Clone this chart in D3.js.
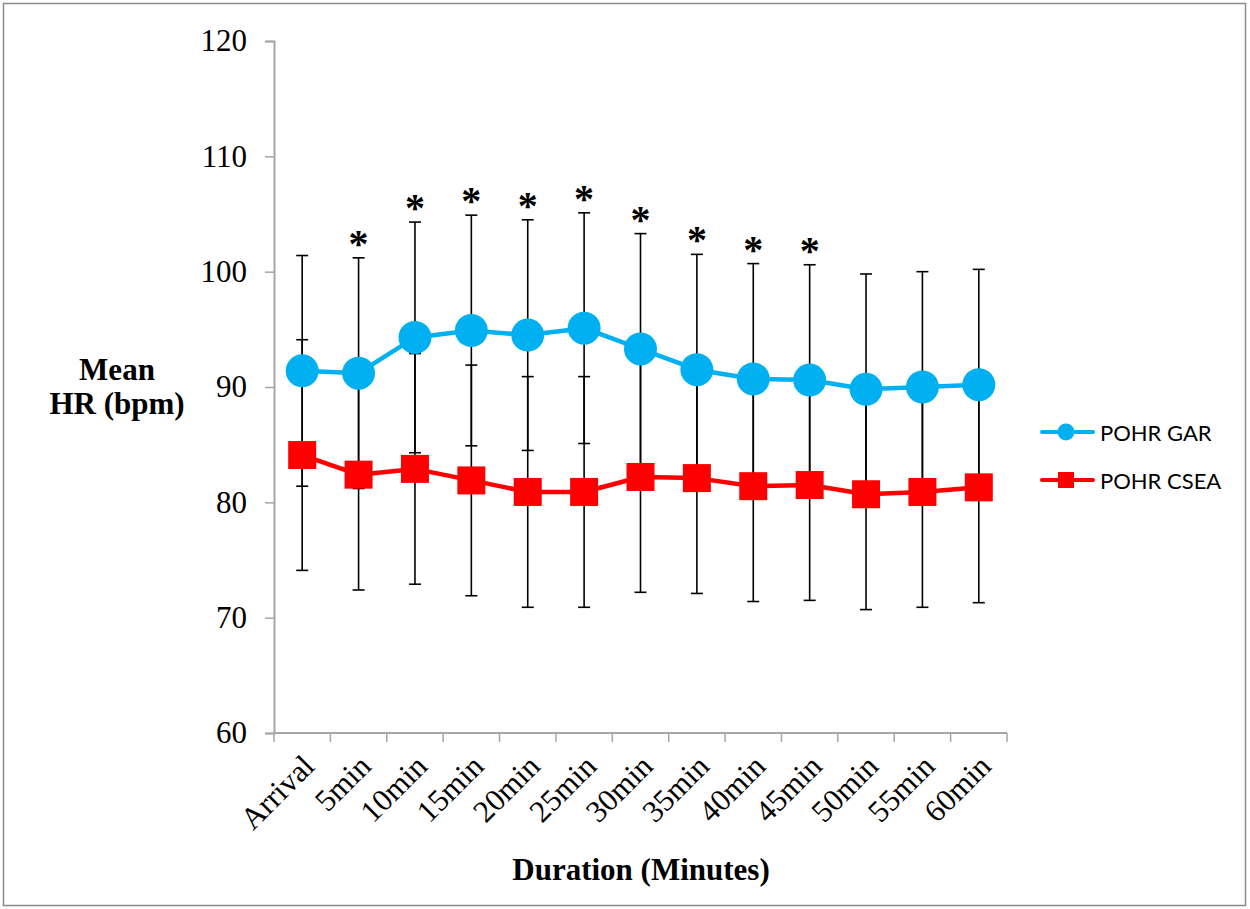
<!DOCTYPE html>
<html>
<head>
<meta charset="utf-8">
<script src="https://cdn.jsdelivr.net/npm/d3@7"></script>
<style>
  html, body { margin: 0; padding: 0; background: #fff; }
  svg { display: block; }
</style>
</head>
<body>
<svg id="chart" width="1250" height="909"></svg>
<script>
// Time points after arrival
const categories = ["Arrival", "5min", "10min", "15min", "20min", "25min", "30min",
                    "35min", "40min", "45min", "50min", "55min", "60min"];

// Mean post-operative heart rate (bpm)
const garMean  = [91.4, 91.2, 94.3, 94.9, 94.5, 95.1, 93.3, 91.5, 90.7, 90.6, 89.8, 90.0, 90.2];
const cseaMean = [84.1, 82.4, 82.9, 81.9, 80.9, 80.9, 82.2, 82.1, 81.4, 81.5, 80.7, 80.9, 81.3];

// Standard deviations used for the error bars
const garSD  = [10, 10, 10, 10, 10, 10, 10, 10, 10, 10, 10, 10, 10];
const cseaSD = [10, 10, 10, 10, 10, 10, 10, 10, 10, 10, 10, 10, 10];

// Time points with a significant difference between groups
const significant = [false, true, true, true, true, true, true, true, true, true, false, false, false];

const yTicks = [60, 70, 80, 90, 100, 110, 120];

const seriesNames = ["POHR GAR", "POHR CSEA"];
const blue = "#00B0F0", red = "#FF0000", axisGrey = "#A6A6A6";
const serif = "'Liberation Serif', 'Times New Roman', serif";

const svg = d3.select("#chart");

// Outer frame
svg.append("rect")
  .attr("x", 3.5).attr("y", 3.5).attr("width", 1242).attr("height", 902)
  .attr("fill", "none").attr("stroke", "#8c8c8c").attr("stroke-width", 1.5);

const plot = { left: 274, right: 1007, top: 41, bottom: 733 };

const x = d3.scaleBand().domain(categories).range([plot.left, plot.right]).paddingInner(0).paddingOuter(0);
const cx = c => x(c) + x.bandwidth() / 2;
const y = d3.scaleLinear().domain([60, 120]).range([plot.bottom, plot.top]);

// Y axis
const yAxis = svg.append("g").attr("transform", `translate(${plot.left},0)`)
  .call(d3.axisLeft(y).tickValues(yTicks).tickSize(9).tickPadding(18));
yAxis.select(".domain").attr("stroke", axisGrey).attr("stroke-width", 2);
yAxis.selectAll(".tick line").attr("stroke", axisGrey).attr("stroke-width", 1.5);
yAxis.selectAll(".tick text")
  .attr("font-family", serif)
  .attr("font-size", 31).attr("fill", "#000");

// X axis: baseline with ticks at category boundaries
const xg = svg.append("g");
xg.append("line")
  .attr("x1", plot.left).attr("x2", plot.right)
  .attr("y1", y(60)).attr("y2", y(60))
  .attr("stroke", axisGrey).attr("stroke-width", 2);
const edges = categories.map(c => x(c)).concat([x.range()[1]]);
xg.selectAll("line.tick").data(edges).join("line")
  .attr("class", "tick")
  .attr("x1", d => d).attr("x2", d => d)
  .attr("y1", y(60)).attr("y2", y(60) + 9)
  .attr("stroke", axisGrey).attr("stroke-width", 1.5);
xg.selectAll("text").data(categories).join("text")
  .attr("transform", d => `translate(${cx(d) + 9},${y(60) + 30}) rotate(-45)`)
  .attr("text-anchor", "end")
  .attr("dominant-baseline", "middle")
  .attr("font-family", serif)
  .attr("font-size", 31).attr("fill", "#000")
  .text(d => d);

// Axis titles
svg.append("text")
  .attr("x", 641).attr("y", 880).attr("text-anchor", "middle")
  .attr("font-family", serif)
  .attr("font-weight", "bold").attr("font-size", 31)
  .text("Duration (Minutes)");
const yt = svg.append("text")
  .attr("text-anchor", "middle")
  .attr("font-family", serif)
  .attr("font-weight", "bold").attr("font-size", 31);
yt.append("tspan").attr("x", 117).attr("y", 380).text("Mean");
yt.append("tspan").attr("x", 117).attr("y", 414).text("HR (bpm)");

// Error bars
function errorBars(means, sds) {
  const g = svg.append("g").attr("stroke", "#000").attr("stroke-width", 1.6);
  const rows = categories.map((c, i) => ({ c, lo: means[i] - sds[i], hi: means[i] + sds[i] }));
  g.selectAll("line.v").data(rows).join("line").attr("class", "v")
    .attr("x1", d => cx(d.c)).attr("x2", d => cx(d.c))
    .attr("y1", d => y(d.lo)).attr("y2", d => y(d.hi));
  g.selectAll("line.hi").data(rows).join("line").attr("class", "hi")
    .attr("x1", d => cx(d.c) - 6).attr("x2", d => cx(d.c) + 6)
    .attr("y1", d => y(d.hi)).attr("y2", d => y(d.hi));
  g.selectAll("line.lo").data(rows).join("line").attr("class", "lo")
    .attr("x1", d => cx(d.c) - 6).attr("x2", d => cx(d.c) + 6)
    .attr("y1", d => y(d.lo)).attr("y2", d => y(d.lo));
}
errorBars(garMean, garSD);
errorBars(cseaMean, cseaSD);

const line = d3.line().x((d, i) => cx(categories[i])).y(d => y(d));

// CSEA series: red line with squares
svg.append("path").datum(cseaMean)
  .attr("d", line).attr("fill", "none")
  .attr("stroke", red).attr("stroke-width", 4.5).attr("stroke-linejoin", "round");
svg.append("g").selectAll("rect").data(cseaMean).join("rect")
  .attr("x", (d, i) => cx(categories[i]) - 14)
  .attr("y", d => y(d) - 14)
  .attr("width", 28).attr("height", 28)
  .attr("fill", red);

// GAR series: blue line with circles
svg.append("path").datum(garMean)
  .attr("d", line).attr("fill", "none")
  .attr("stroke", blue).attr("stroke-width", 4.5).attr("stroke-linejoin", "round");
svg.append("g").selectAll("circle").data(garMean).join("circle")
  .attr("cx", (d, i) => cx(categories[i]))
  .attr("cy", d => y(d))
  .attr("r", 16.5)
  .attr("fill", blue);

// Significance markers above the GAR error bars
svg.append("g").selectAll("text")
  .data(categories.map((c, i) => ({ c, top: garMean[i] + garSD[i], sig: significant[i] })).filter(d => d.sig))
  .join("text")
  .attr("x", d => cx(d.c))
  .attr("y", d => y(d.top) - 1)
  .attr("text-anchor", "middle")
  .attr("font-family", serif)
  .attr("font-weight", "bold").attr("font-size", 40)
  .text("*");

// Legend
const legend = svg.append("g");
const legendRows = [
  { name: seriesNames[0], color: blue, shape: "circle", y: 432 },
  { name: seriesNames[1], color: red, shape: "square", y: 480 }
];
legendRows.forEach(r => {
  legend.append("line")
    .attr("x1", 1042).attr("x2", 1093).attr("y1", r.y).attr("y2", r.y)
    .attr("stroke", r.color).attr("stroke-width", 4).attr("stroke-linecap", "round");
  if (r.shape === "circle") {
    legend.append("circle").attr("cx", 1066).attr("cy", r.y).attr("r", 8.5).attr("fill", r.color);
  } else {
    legend.append("rect").attr("x", 1058).attr("y", r.y - 8).attr("width", 16).attr("height", 16).attr("fill", r.color);
  }
  legend.append("text")
    .attr("x", 1100).attr("y", r.y).attr("dominant-baseline", "central")
    .attr("font-family", "Lato, 'Open Sans', sans-serif")
    .attr("font-size", 22).attr("fill", "#000")
    .text(r.name);
});
</script>
</body>
</html>
